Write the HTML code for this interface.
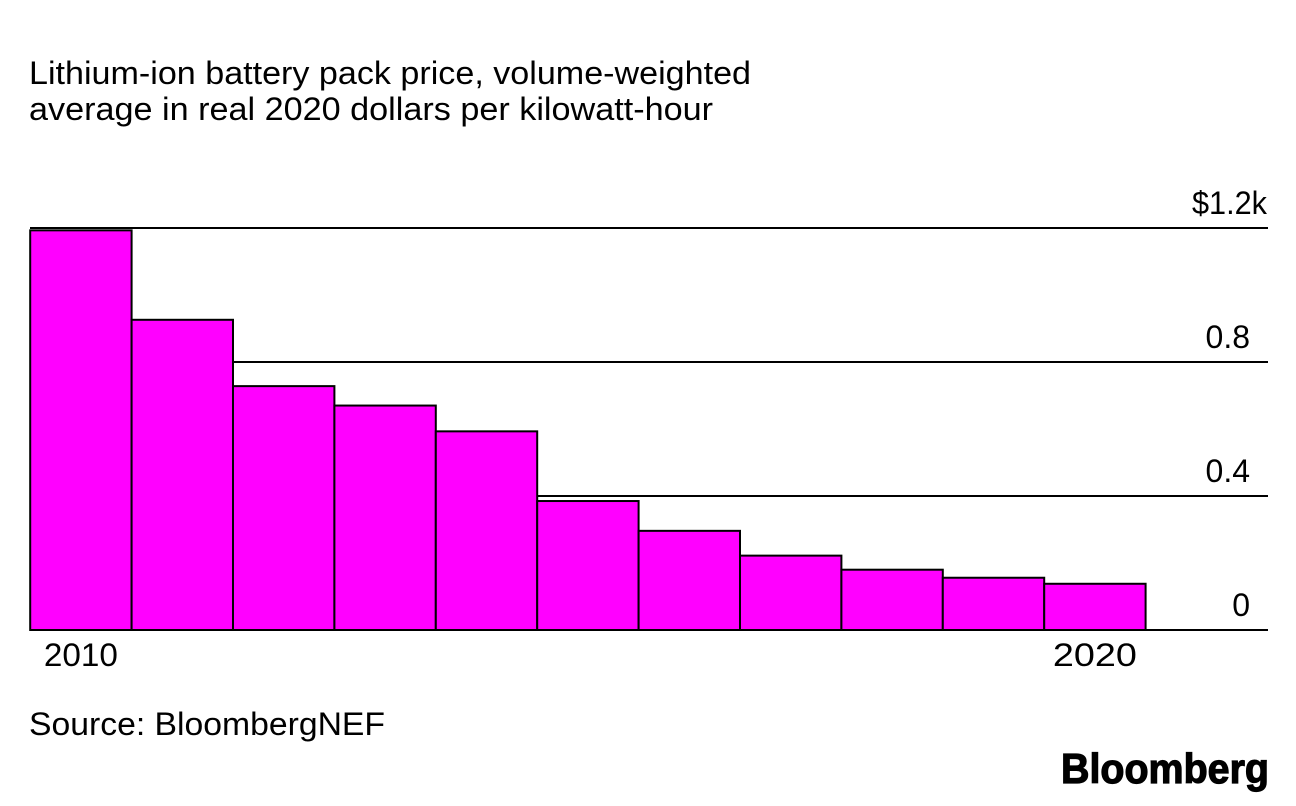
<!DOCTYPE html>
<html>
<head>
<meta charset="utf-8">
<title>Lithium-ion battery pack price</title>
<style>
html,body{margin:0;padding:0;background:#fff;width:1296px;height:806px;overflow:hidden}
svg{display:block}
text{font-family:"Liberation Sans",sans-serif;fill:#000}
</style>
</head>
<body>
<svg id="chart" xmlns="http://www.w3.org/2000/svg" width="1296" height="806" viewBox="0 0 1296 806">
  <text x="29" y="84" font-size="32" textLength="722" lengthAdjust="spacingAndGlyphs">Lithium-ion battery pack price, volume-weighted</text>
  <text x="29" y="120" font-size="32" textLength="684" lengthAdjust="spacingAndGlyphs">average in real 2020 dollars per kilowatt-hour</text>
  <g id="grid"></g>
  <g id="bars"></g>
  <g id="yticks"></g>
  <g id="xticks"></g>
  <text x="29" y="735" font-size="32" textLength="356" lengthAdjust="spacingAndGlyphs">Source: BloombergNEF</text>
  <text x="1061" y="783" font-size="42" font-weight="700" stroke="#000" stroke-width="1.2" textLength="208" lengthAdjust="spacingAndGlyphs">Bloomberg</text>
</svg>
<script>
const years = [2010, 2011, 2012, 2013, 2014, 2015, 2016, 2017, 2018, 2019, 2020];
const prices = [1193, 926, 728, 670, 593, 385, 296, 222, 180, 156, 138];
const yTickValues = [1200, 800, 400, 0];
const yTickLabels = ['$1.2k', '0.8', '0.4', '0'];
const xTickYears = [2010, 2020];
const xTickLabels = ['2010', '2020'];

const NS = 'http://www.w3.org/2000/svg';
const plotLeft = 30, plotRight = 1268, bandWidth = 101.4, baseY = 630, pxPerUnit = 402 / 1200;
const yScale = v => baseY - v * pxPerUnit;
const xScale = i => plotLeft + 0.2 + i * bandWidth;

function make(tag, attrs) {
  const el = document.createElementNS(NS, tag);
  Object.keys(attrs).forEach(k => el.setAttribute(k, attrs[k]));
  return el;
}

const gridG = document.getElementById('grid');
const barsG = document.getElementById('bars');
const yG = document.getElementById('yticks');
const xG = document.getElementById('xticks');

yTickValues.forEach((v, i) => {
  const y = Math.round(yScale(v));
  const line = make('line', {x1: plotLeft, x2: plotRight, y1: y, y2: y, stroke: '#000', 'stroke-width': 2});
  
  
  gridG.appendChild(line);

  const label = make('text', {x: i === 0 ? 1267 : 1250, y: y - 14, 'font-size': 32, 'text-anchor': 'end'});
  if (i === 0) {
    label.setAttribute('textLength', '75');
    label.setAttribute('lengthAdjust', 'spacingAndGlyphs');
  }
  
  
  label.textContent = yTickLabels[i];
  yG.appendChild(label);
});

years.forEach((yr, i) => {
  const top = yScale(prices[i]);
  const bar = make('rect', {x: xScale(i), y: top, width: bandWidth, height: baseY - top, fill: '#ff00ff', stroke: '#000', 'stroke-width': 2});
  
  
  barsG.appendChild(bar);
});

xTickYears.forEach((yr, i) => {
  const idx = years.indexOf(yr);
  const label = make('text', {x: xScale(idx) + bandWidth / 2, y: 666, 'font-size': 32, 'text-anchor': 'middle', textLength: i === 0 ? 74 : 84, lengthAdjust: 'spacingAndGlyphs'});
  
  
  label.textContent = xTickLabels[i];
  xG.appendChild(label);
});
</script>
</body>
</html>
